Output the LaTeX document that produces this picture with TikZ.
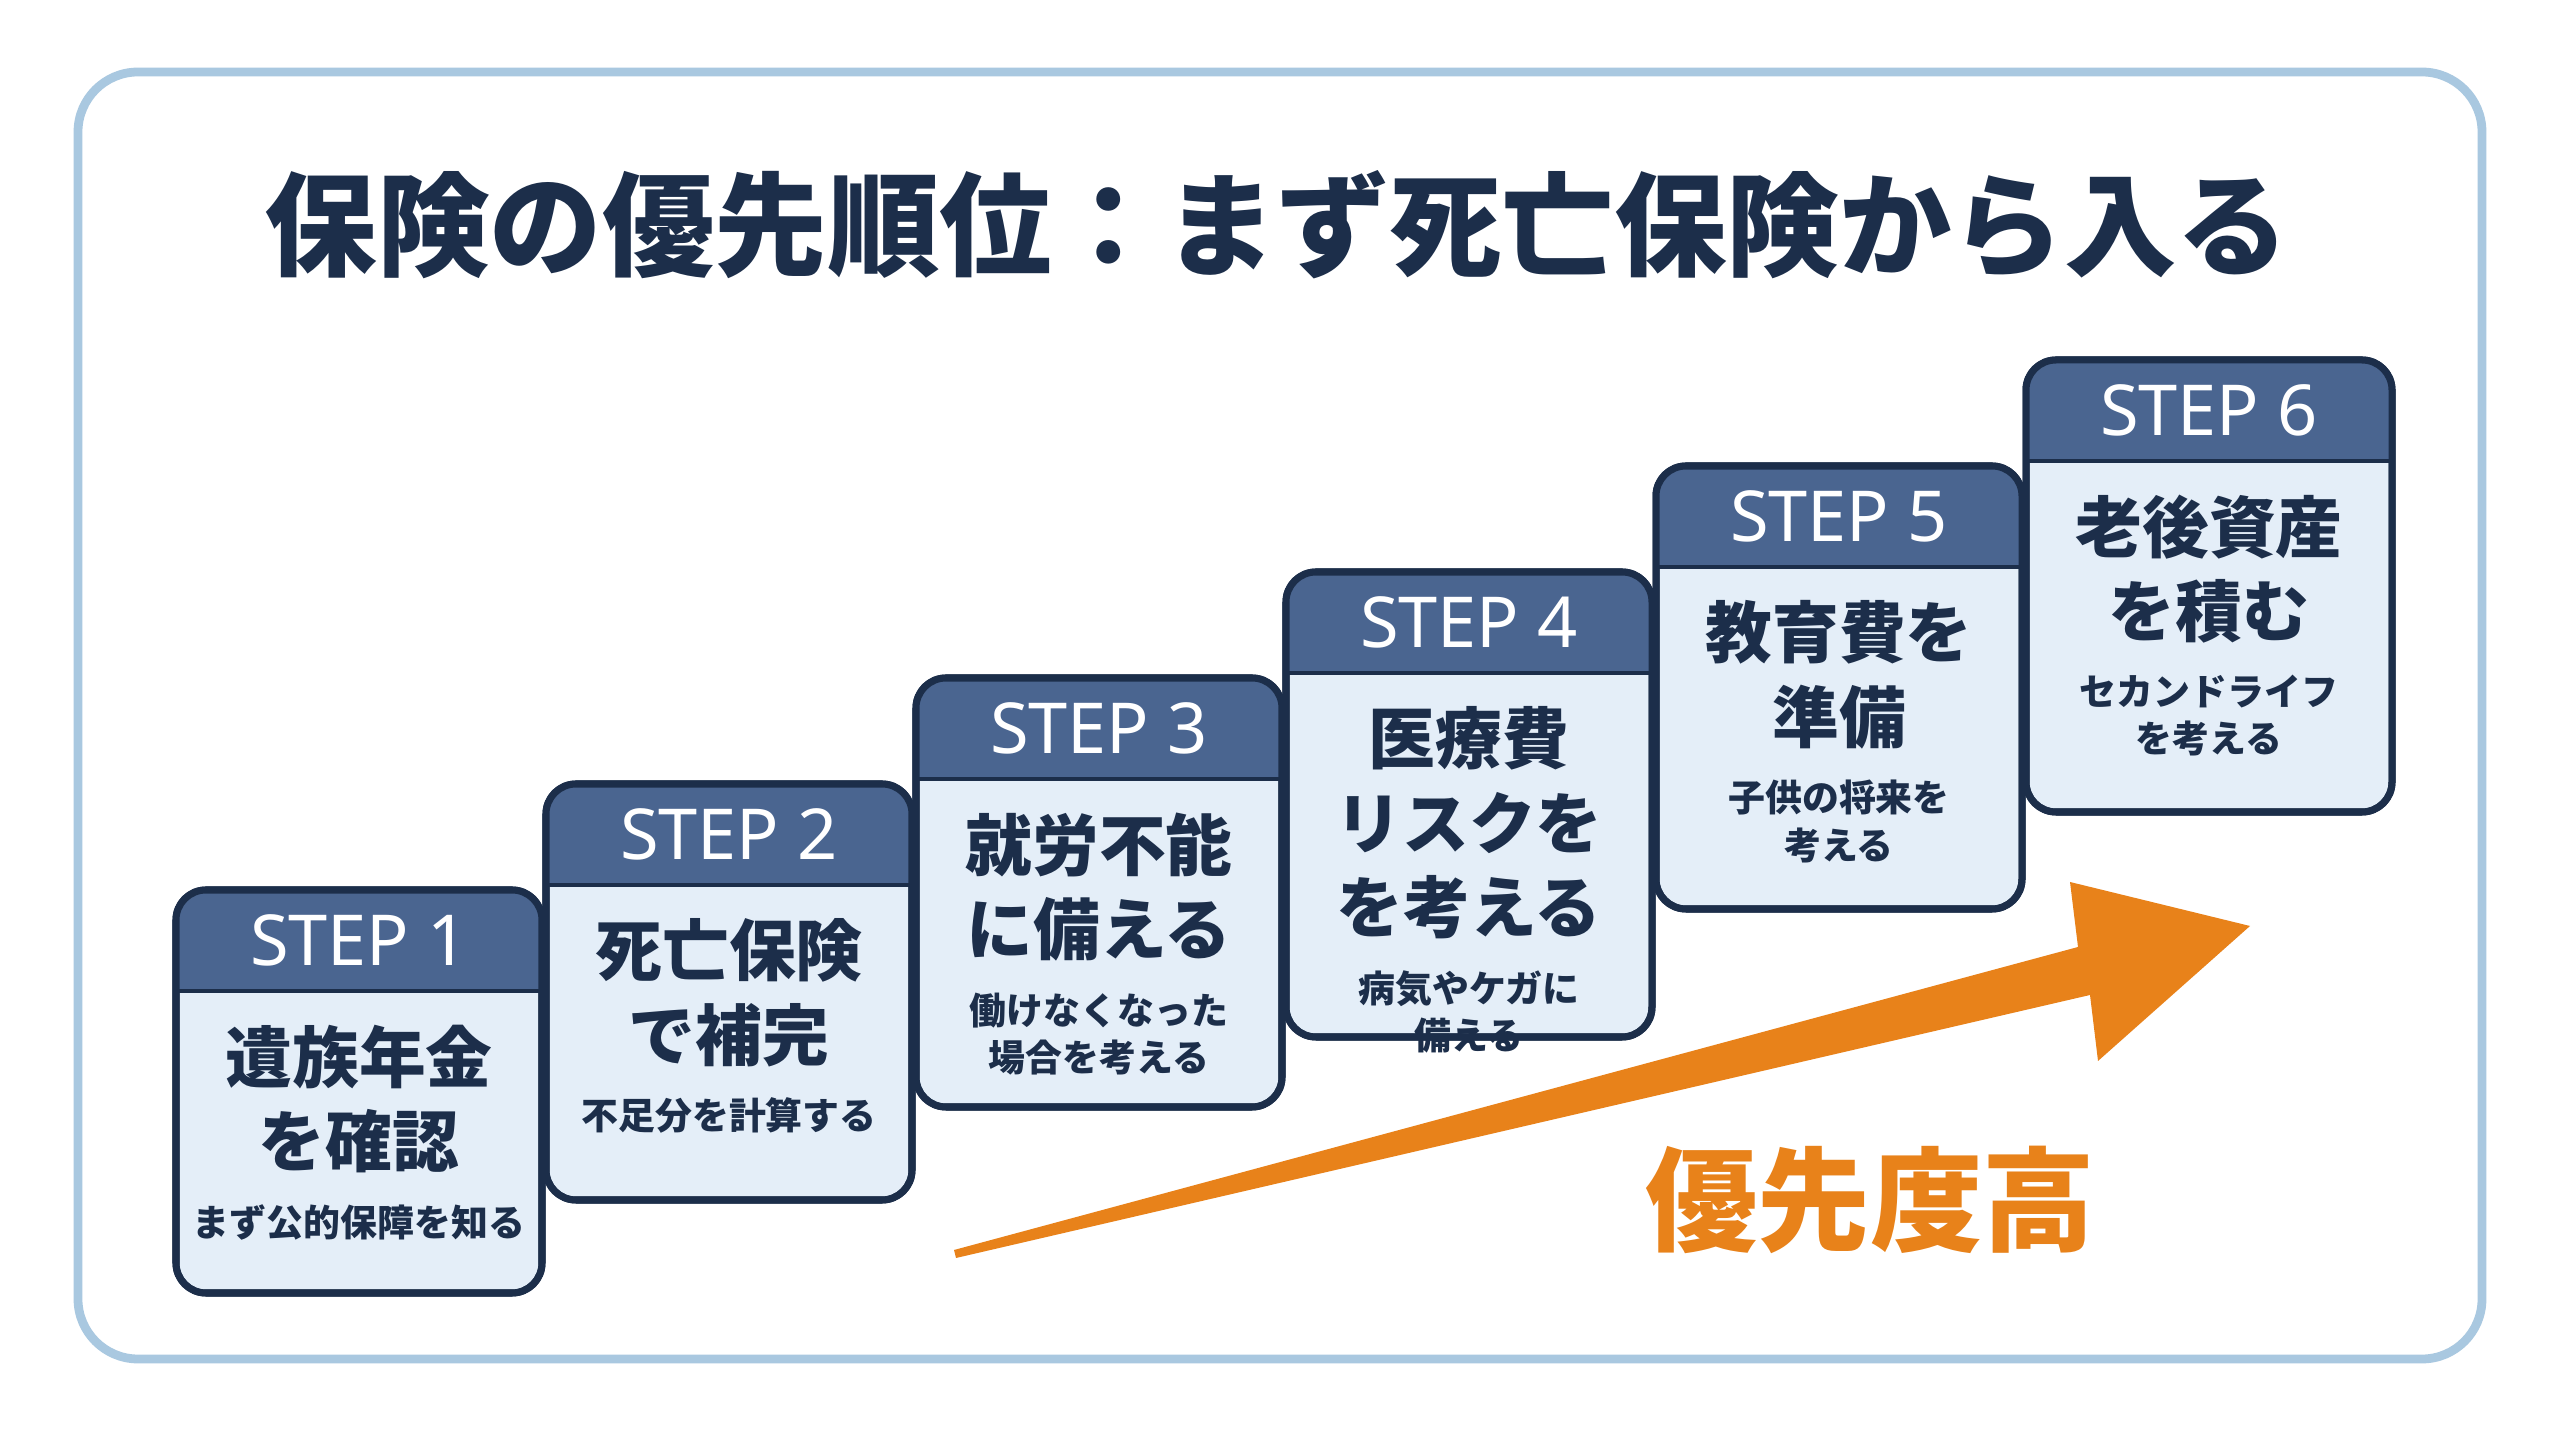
\documentclass[tikz,border=0pt]{standalone}
\usepackage{fontspec}
\usetikzlibrary{positioning}
\setmainfont{Noto Sans CJK JP}
\newfontfamily\stepfont{Noto Sans}
\definecolor{navy}{HTML}{1C2E4A}
\definecolor{headcol}{HTML}{4A6590}
\definecolor{boxcol}{HTML}{E4EEF8}
\definecolor{framecol}{HTML}{A9C8E0}
\definecolor{arrowcol}{HTML}{E8821A}
\tikzset{
  stepbox/.style={draw=navy, line width=2pt, fill=boxcol, rounded corners=0.3cm},
  headtxt/.style={text=white, font=\stepfont\bfseries\fontsize{20}{22}\selectfont},
  maintxt/.style={text=navy, align=center, font=\bfseries\fontsize{19}{24}\selectfont, inner sep=0pt},
  subtxt/.style={text=navy, align=center, font=\bfseries\fontsize{10.5}{13.5}\selectfont, inner sep=0pt},
}
\begin{document}
\begin{tikzpicture}
\useasboundingbox (0,0) rectangle (25.6,14.29);
\fill[white] (0,0) rectangle (25.6,14.29);
\draw[framecol, line width=2.5pt, rounded corners=0.6cm] (0.78,0.70) rectangle (24.82,13.57);
\node[text=navy, font=\bfseries\fontsize{32}{36}\selectfont] (title) at (12.77,12.04) {保険の優先順位：まず死亡保険から入る};
\foreach \i/\bot/\maintext/\subtext in {
  1/1.36/{遺族年金\\を確認}/{まず公的保障を知る},
  2/2.29/{死亡保険\\で補完}/{不足分を計算する},
  3/3.22/{就労不能\\に備える}/{働けなくなった\\場合を考える},
  4/3.92/{医療費\\リスクを\\を考える}/{病気やケガに\\備える},
  5/5.20/{教育費を\\準備}/{子供の将来を\\考える},
  6/6.17/{老後資産\\を積む}/{セカンドライフ\\を考える}} {
  \pgfmathsetmacro{\l}{1.76+3.70*(\i-1)}
  \pgfmathsetmacro{\r}{\l+3.66}
  \pgfmathsetmacro{\t}{5.39+1.06*(\i-1)}
  \pgfmathsetmacro{\hb}{\t-1.01}
  \draw[stepbox] (\l,\bot) rectangle (\r,\t);
  \fill[headcol] (\l,\hb) [rounded corners=0.3cm] -- (\l,\t) -- (\r,\t) [sharp corners] -- (\r,\hb) -- cycle;
  \draw[navy, line width=2pt, rounded corners=0.3cm] (\l,\bot) rectangle (\r,\t);
  \draw[navy, line width=1.2pt] (\l,\hb) -- (\r,\hb);
  \node[headtxt] (h\i) at ({(\l+\r)/2},{\t-0.5}) {STEP \i};
  \node[maintxt, anchor=north] (m\i) at ({(\l+\r)/2},{\hb-0.33}) {\maintext};
  \node[subtxt, below=0.3cm of m\i] (s\i) {\subtext};
}
\fill[arrowcol] (9.56,1.71) -- (20.90,4.34) -- (20.98,3.68) -- (22.50,5.03) -- (20.70,5.47) -- (20.78,4.82) -- (9.54,1.79) -- cycle;
\node[text=arrowcol, font=\bfseries\fontsize{32}{36}\selectfont] (prio) at (18.70,2.29) {優先度高};
\end{tikzpicture}
\end{document}
